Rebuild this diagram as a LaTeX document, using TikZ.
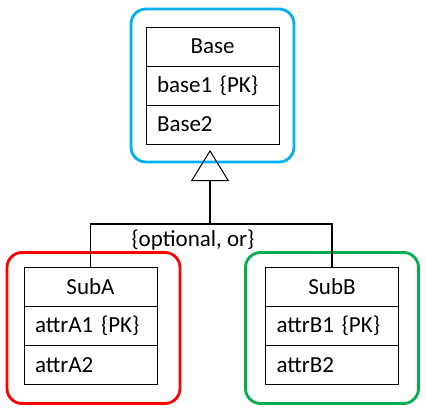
\documentclass[tikz,border=0pt]{standalone}
\usepackage{fontspec}
\setmainfont{Carlito}
\usetikzlibrary{positioning,fit,arrows.meta}
\definecolor{frameblue}{RGB}{0,176,240}
\definecolor{framered}{RGB}{255,0,0}
\definecolor{framegreen}{RGB}{0,176,80}

\begin{document}
\begin{tikzpicture}[x=1pt, y=-1pt,
				font=\fontsize{23}{27}\selectfont,
				headnode/.style={rectangle, draw=black, line width=0.8pt, minimum width=133pt, minimum height=39pt, inner sep=0pt, outer sep=0pt},
				attrnode/.style={headnode, text width=111pt, align=left, inner xsep=11pt},
				framenode/.style={rectangle, rounded corners=15pt, line width=2.8pt, inner xsep=20pt, inner ysep=17pt},
				node distance=0pt,
				]
				\useasboundingbox (0,0) rectangle (426,415);
		
				%Nodes
				\node[headnode]			(base)	at (212.5,46.5)	{Base};
				\node[attrnode]			(base1)	[below=of base]	{base1 \{PK\}};
				\node[attrnode]			(base2)	[below=of base1]	{Base2};
		
				\node[headnode]			(subA)	at (90.5,287)	{SubA};
				\node[attrnode]			(attrA1)	[below=of subA]	{attrA1 \{PK\}};
				\node[attrnode]			(attrA2)	[below=of attrA1]	{attrA2};
		
				\node[headnode]			(subB)	at (332,287)	{SubB};
				\node[attrnode]			(attrB1)	[below=of subB]	{attrB1 \{PK\}};
				\node[attrnode]			(attrB2)	[below=of attrB1]	{attrB2};
		
				%Frames
				\node[framenode, draw=frameblue, inner xsep=15pt, inner ysep=18pt, fit=(base)(base2)]	(baseframe)	{};
				\node[framenode, draw=framered, xshift=3pt, yshift=-2pt, fit=(subA)(attrA2)]	(subAframe)	{};
				\node[framenode, draw=framegreen, yshift=-2pt, fit=(subB)(attrB2)]	(subBframe)	{};
		
				%Lines
				\coordinate (split) at (210,224);
				\coordinate (apex) at (210,150);
				\draw[line width=1.8pt]	(subA.north) |- (split) -| (subB.north);
				\draw[line width=2.6pt, -{Triangle[open, length=31pt, width=38pt, line width=1pt]}]	(split) -- (apex);
				\node	(disjoint)	at (193,240)	{\{optional, or\}};
			\end{tikzpicture}
\end{document}
